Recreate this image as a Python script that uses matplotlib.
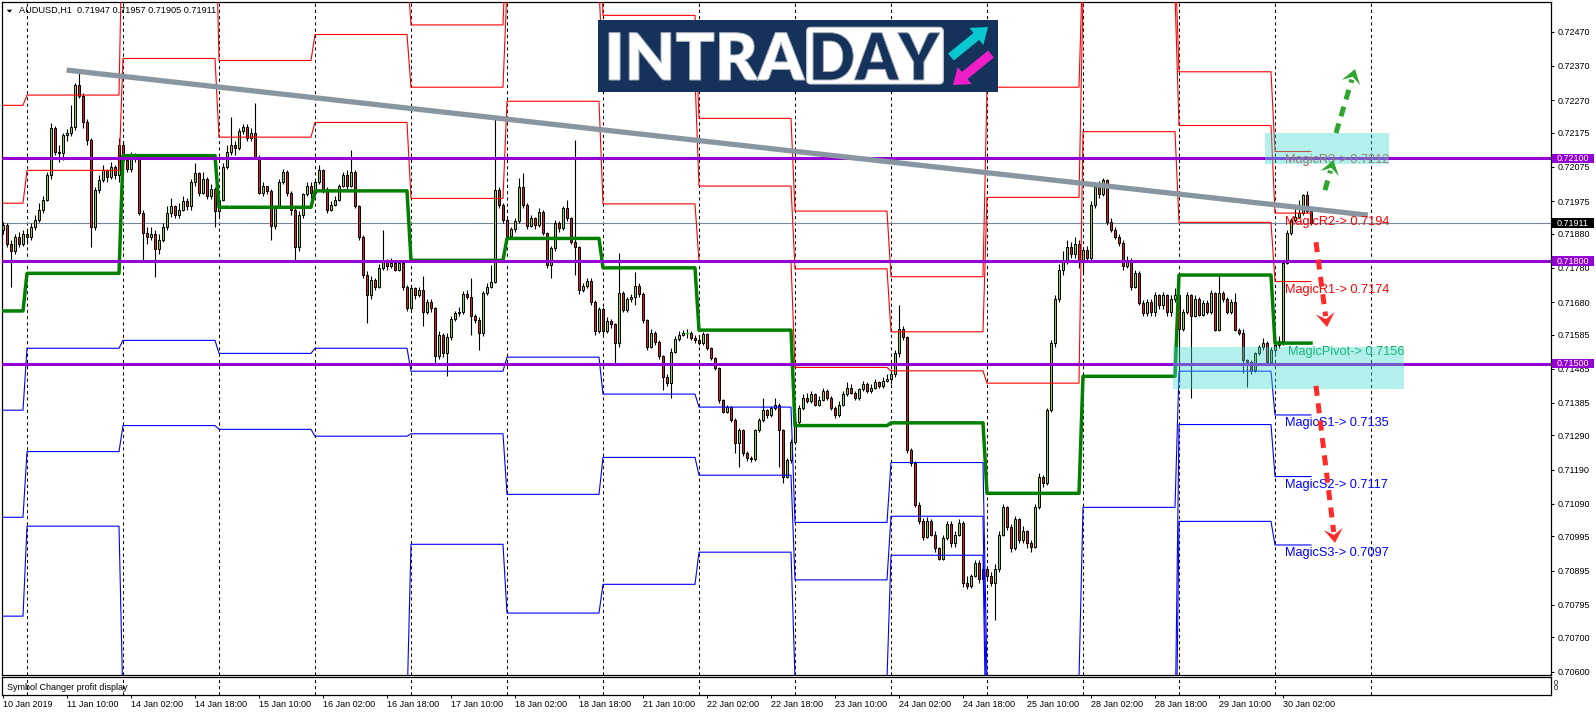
import numpy as np
import matplotlib
matplotlib.use("Agg")
import matplotlib.pyplot as plt
from matplotlib.lines import Line2D
from matplotlib.patches import Rectangle, Polygon, FancyBboxPatch, FancyArrow, PathPatch
from matplotlib.textpath import TextPath
from matplotlib.font_manager import FontProperties
from matplotlib.transforms import Affine2D, IdentityTransform, blended_transform_factory

W, H, DPI = 1596, 716, 100
FONT = "Liberation Sans"
plt.rcParams["font.family"] = [FONT, "DejaVu Sans"]

title = "AUDUSD,H1  0.71947 0.71957 0.71905 0.71911"

# H1 candles, in points above 0.70000 (1 point = 0.00001); open = previous close
first_open = 1890
closes = [
    1905, 1850, 1830, 1870, 1850, 1880,
    1870, 1900, 1920, 1950, 1979, 2052, 2188, 2120, 2115, 2168, 2175, 2193, 2315, 2281, 2207, 2154, 1900, 2008, 2037, 2065, 2045, 2075, 2050, 2140,
    2095, 2070, 2110, 2104, 1940, 1882, 1870, 1880, 1835, 1862, 1900, 1940, 1960, 1935, 1950, 1975, 1960, 2030, 2057, 2000, 2040, 1990, 2010, 1945,
    1979, 2076, 2120, 2140, 2130, 2180, 2193, 2160, 2175, 2105, 2000, 2018, 2005, 1901, 1960, 2030, 2060, 1998, 1950, 1842, 1935, 1995, 2018, 2000,
    2030, 2066, 2010, 1950, 1965, 1979, 2018, 2050, 2020, 2060, 1960, 1871, 1760, 1700, 1745, 1725, 1780, 1800, 1784, 1795, 1775, 1794, 1725, 1663,
    1720, 1700, 1716, 1652, 1680, 1662, 1521, 1584, 1531, 1579, 1630, 1648, 1652, 1704, 1696, 1638, 1628, 1589, 1706, 1725, 1740, 2008, 1964, 1920,
    1873, 1893, 1918, 2016, 1964, 1903, 1925, 1905, 1943, 1881, 1789, 1837, 1912, 1896, 1954, 1925, 1857, 1842, 1716, 1727, 1743, 1679, 1594, 1659,
    1594, 1625, 1615, 1560, 1706, 1657, 1688, 1694, 1727, 1704, 1628, 1550, 1591, 1562, 1521, 1462, 1443, 1535, 1572, 1584, 1589, 1589, 1575, 1570,
    1560, 1586, 1545, 1516, 1487, 1394, 1360, 1372, 1336, 1267, 1306, 1238, 1224, 1220, 1306, 1336, 1365, 1350, 1370, 1380, 1306, 1170, 1219, 1270,
    1330, 1370, 1400, 1390, 1410, 1380, 1395, 1420, 1400, 1370, 1350, 1380, 1410, 1430, 1415, 1400, 1425, 1440, 1420, 1430, 1445, 1435, 1450, 1455,
    1470, 1530, 1600, 1578, 1248, 1210, 1087, 1040, 994, 1040, 1000, 960, 930, 990, 1030, 975, 1000, 1035, 860, 850, 880, 918, 870, 900,
    880, 860, 900, 1000, 1082, 1023, 960, 1045, 985, 1010, 975, 965, 1082, 1170, 1150, 1365, 1560, 1690, 1774, 1800, 1840, 1820, 1850, 1800,
    1833, 1810, 1964, 2017, 1995, 2037, 1915, 1891, 1871, 1852, 1784, 1800, 1725, 1764, 1677, 1647, 1680, 1650, 1700, 1670, 1700, 1650, 1690, 1700,
    1600, 1650, 1700, 1640, 1690, 1643, 1678, 1650, 1707, 1599, 1707, 1690, 1650, 1681, 1599, 1591, 1511, 1505, 1480, 1531, 1549, 1560, 1505, 1540,
    1555, 1565, 1795, 1882, 1920, 1930, 1941, 1993, 1947, 1911,
]
highs = [
    1915, 1910, 1860, 1880, 1885, 1890,
    1890, 1910, 1935, 1970, 1990, 2060, 2203, 2195, 2140, 2175, 2185, 2256, 2320, 2354, 2290, 2215, 2160, 2015, 2050, 2080, 2070, 2090, 2080, 2160,
    2150, 2105, 2120, 2115, 2110, 1950, 1900, 1900, 1890, 1880, 1910, 1960, 1985, 1965, 1970, 1990, 1985, 2040, 2086, 2060, 2060, 2045, 2025, 2015,
    1990, 2085, 2140, 2222, 2150, 2190, 2200, 2200, 2190, 2261, 2110, 2030, 2020, 2010, 1965, 2040, 2070, 2065, 2005, 1960, 1945, 2000, 2030, 2030,
    2040, 2080, 2070, 2015, 1975, 1990, 2025, 2060, 2065, 2125, 2065, 1965, 1875, 1770, 1755, 1750, 1790, 1891, 1805, 1810, 1800, 1800, 1800, 1730,
    1730, 1725, 1725, 1755, 1690, 1690, 1665, 1595, 1590, 1590, 1640, 1655, 1665, 1712, 1715, 1750, 1645, 1635, 1712, 1735, 1789, 2222, 2015, 1970,
    1925, 1900, 1925, 2042, 2057, 1970, 1935, 1930, 1955, 1950, 1885, 1845, 1920, 1918, 1960, 1979, 1930, 2154, 1845, 1735, 1750, 1750, 1685, 1665,
    1665, 1635, 1630, 1620, 1823, 1712, 1695, 1705, 1769, 1735, 1710, 1630, 1600, 1595, 1570, 1525, 1470, 1545, 1580, 1595, 1598, 1600, 1595, 1585,
    1580, 1592, 1590, 1550, 1520, 1490, 1398, 1378, 1375, 1340, 1312, 1310, 1245, 1230, 1310, 1340, 1399, 1368, 1375, 1399, 1385, 1310, 1225, 1280,
    1340, 1380, 1410, 1415, 1420, 1415, 1405, 1430, 1425, 1405, 1375, 1390, 1420, 1445, 1440, 1420, 1430, 1450, 1445, 1440, 1455, 1450, 1460, 1470,
    1480, 1540, 1672, 1610, 1580, 1252, 1215, 1095, 1050, 1052, 1045, 1010, 965, 1000, 1040, 1040, 1010, 1045, 1040, 880, 885, 925, 925, 915,
    905, 890, 915, 1010, 1090, 1085, 1030, 1055, 1050, 1025, 1015, 985, 1090, 1180, 1175, 1370, 1570, 1700, 1790, 1830, 1860, 1855, 1870, 1860,
    1840, 1845, 1975, 2030, 2035, 2042, 2040, 1925, 1900, 1880, 1860, 1815, 1810, 1775, 1770, 1685, 1690, 1690, 1710, 1705, 1710, 1705, 1700, 1720,
    1705, 1660, 1710, 1705, 1700, 1695, 1685, 1685, 1715, 1710, 1760, 1712, 1695, 1690, 1707, 1605, 1600, 1515, 1510, 1535, 1555, 1575, 1565, 1550,
    1580, 1580, 1800, 1890, 1925, 1960, 1978, 1997, 2006, 1957,
]
lows = [
    1880, 1840, 1724, 1820, 1840, 1845,
    1850, 1860, 1890, 1915, 1940, 1975, 2040, 2110, 2090, 2095, 2150, 2165, 2183, 2275, 2190, 2140, 1841, 1890, 2000, 2030, 2030, 2040, 2040, 2030,
    2080, 2060, 2060, 2090, 1935, 1803, 1850, 1860, 1754, 1820, 1855, 1890, 1930, 1925, 1925, 1945, 1950, 1950, 2020, 1990, 1995, 1980, 1980, 1900,
    1930, 1975, 2070, 2110, 2110, 2125, 2170, 2150, 2150, 2100, 1995, 1990, 1995, 1862, 1895, 1955, 2025, 1990, 1935, 1803, 1830, 1925, 1990, 1985,
    1990, 2025, 2000, 1940, 1945, 1960, 1975, 2015, 2010, 2015, 1955, 1860, 1750, 1618, 1690, 1715, 1720, 1775, 1775, 1780, 1770, 1770, 1715, 1655,
    1655, 1690, 1695, 1609, 1645, 1650, 1501, 1515, 1520, 1464, 1570, 1625, 1640, 1645, 1690, 1584, 1620, 1540, 1580, 1700, 1720, 1735, 1955, 1910,
    1865, 1868, 1885, 1910, 1955, 1895, 1898, 1895, 1900, 1875, 1780, 1750, 1830, 1885, 1890, 1918, 1850, 1760, 1705, 1710, 1720, 1670, 1585, 1590,
    1585, 1590, 1605, 1501, 1550, 1650, 1650, 1680, 1672, 1695, 1620, 1540, 1545, 1555, 1515, 1423, 1435, 1399, 1530, 1565, 1580, 1575, 1570, 1560,
    1555, 1555, 1540, 1510, 1480, 1385, 1355, 1355, 1330, 1238, 1199, 1230, 1215, 1214, 1215, 1300, 1330, 1340, 1345, 1365, 1199, 1151, 1165, 1210,
    1265, 1325, 1365, 1385, 1385, 1375, 1375, 1390, 1395, 1365, 1340, 1345, 1375, 1405, 1410, 1395, 1395, 1420, 1415, 1415, 1425, 1430, 1430, 1445,
    1440, 1460, 1520, 1570, 1240, 1200, 1080, 1030, 985, 990, 995, 950, 925, 925, 985, 965, 965, 995, 848, 840, 845, 875, 860, 860,
    870, 850, 751, 890, 995, 1015, 950, 955, 975, 975, 960, 950, 960, 1075, 1140, 1145, 1360, 1550, 1680, 1760, 1790, 1810, 1810, 1780,
    1764, 1800, 1800, 1955, 1985, 1990, 1905, 1885, 1865, 1845, 1775, 1780, 1715, 1720, 1670, 1640, 1640, 1640, 1640, 1660, 1660, 1640, 1640, 1680,
    1447, 1595, 1645, 1400, 1635, 1640, 1640, 1645, 1645, 1595, 1595, 1680, 1645, 1645, 1595, 1585, 1473, 1432, 1470, 1475, 1525, 1540, 1495, 1500,
    1530, 1545, 1555, 1790, 1875, 1915, 1925, 1935, 1940, 1905,
]

# daily "Magic" levels, 10 Jan (partial) ... 30 Jan (partial)
day_bars = [6] + [24] * 13 + [10]
lvl_r3 = [0.7257, 0.7259, 0.7320, 0.7260, 0.7266, 0.72490, 0.7280, 0.72518, 0.72217, 0.71946, 0.71754, 0.72308, 0.7270, 0.72353, 0.7212]
lvl_r2 = [0.72255, 0.72285, 0.7290, 0.72386, 0.72462, 0.72308, 0.7260, 0.72337, 0.72019, 0.71777, 0.71593, 0.71986, 0.7258, 0.72196, 0.7194]
lvl_r1 = [0.71969, 0.72065, 0.72392, 0.72162, 0.72205, 0.71983, 0.72267, 0.71967, 0.71798, 0.71489, 0.71479, 0.71443, 0.72178, 0.71913, 0.7174]
lvl_p = [0.71654, 0.71764, 0.72108, 0.71957, 0.72005, 0.71802, 0.71866, 0.71780, 0.71598, 0.71319, 0.71327, 0.71121, 0.71463, 0.71759, 0.7156]
lvl_s1 = [0.71364, 0.71545, 0.71568, 0.71530, 0.71545, 0.71478, 0.71519, 0.71411, 0.71373, 0.71036, 0.71211, 0.7058, 0.71080, 0.71478, 0.7135]
lvl_s2 = [0.71051, 0.71243, 0.71319, 0.71308, 0.71288, 0.71295, 0.71118, 0.71226, 0.71174, 0.70868, 0.71054, 0.7040, 0.7040, 0.71322, 0.7117]
lvl_s3 = [0.70762, 0.71025, 0.7050, 0.7050, 0.7050, 0.70972, 0.70771, 0.70855, 0.70949, 0.7058, 0.70940, 0.7020, 0.7010, 0.71039, 0.7097]
magic_names = ["MagicR3", "MagicR2", "MagicR1", "MagicPivot", "MagicS1", "MagicS2", "MagicS3"]
magic_x = [320.5, 320.5, 320.5, 321.3, 320.5, 320.5, 320.5]

price_ticks = [0.72470, 0.72370, 0.72270, 0.72175, 0.72075, 0.71975, 0.71880, 0.71780, 0.71680, 0.71585,
               0.71485, 0.71385, 0.71290, 0.71190, 0.71090, 0.70995, 0.70895, 0.70795, 0.70700, 0.70600]
date_labels = ["10 Jan 2019", "11 Jan 10:00", "14 Jan 02:00", "14 Jan 18:00", "15 Jan 10:00", "16 Jan 02:00",
               "16 Jan 18:00", "17 Jan 10:00", "18 Jan 02:00", "18 Jan 18:00", "21 Jan 10:00", "22 Jan 02:00",
               "22 Jan 18:00", "23 Jan 10:00", "24 Jan 02:00", "24 Jan 18:00", "25 Jan 10:00", "28 Jan 02:00",
               "28 Jan 18:00", "29 Jan 10:00", "30 Jan 02:00"]
key_levels = [0.72100, 0.71800, 0.71500]
last_price = 0.71911

trend_x = [15.9, 341.2]
trend_y = [0.72358, 0.71934]
zones = [(315.5, 346.4, 0.72083, 0.72173), (292.5, 350.25, 0.71426, 0.71550)]
arrows_up = [((330.5, 0.72007), (332.6, 0.72095)), ((333.25, 0.72174), (338.0, 0.72361))]
arrows_dn = [((328.25, 0.71855), (331.0, 0.71607)), ((328.25, 0.71435), (333.0, 0.70976))]

YMIN, YMAX = 0.70590, 0.72557
XMIN, XMAX = -0.25, 387.0

fig = plt.figure(figsize=(W / DPI, H / DPI), dpi=DPI)
fig.patch.set_facecolor("white")


def fx(px):
    return px / W


def fy(py):
    return 1 - py / H


ax = fig.add_axes([fx(2), fy(675), fx(1551) - fx(2), fy(2) - fy(675)])
sub = fig.add_axes([fx(2), fy(695), fx(1551) - fx(2), fy(677) - fy(695)], sharex=ax)
ax.set_xlim(XMIN, XMAX)
ax.set_ylim(YMIN, YMAX)
sub.set_ylim(0, 1)
for a in (ax, sub):
    for s in a.spines.values():
        s.set_linewidth(0.9)
        s.set_color("black")

# day separators
for b in range(6, 360, 24):
    for a in (ax, sub):
        a.axvline(b, color="black", lw=0.75, ls=(0, (3, 3)), zorder=1)

# candles
o = 0.7 + np.array([first_open] + closes[:-1]) / 1e5
c = 0.7 + np.array(closes) / 1e5
hi = 0.7 + np.array(highs) / 1e5
lo = 0.7 + np.array(lows) / 1e5
x = np.arange(len(c))
ax.vlines(x, lo, hi, color="black", lw=0.8, zorder=3)
up = c > o
dn = c < o
ax.bar(x[up], (c - o)[up], bottom=o[up], width=0.62, color="#9acd32", edgecolor="black", lw=0.7, zorder=3.5)
ax.bar(x[dn], (o - c)[dn], bottom=c[dn], width=0.62, color="#dc1e1e", edgecolor="black", lw=0.7, zorder=3.5)
dj = ~(up | dn)
ax.hlines(c[dj], x[dj] - 0.4, x[dj] + 0.4, color="#00e000", lw=1, zorder=3.5)

# magic levels
levels = [lvl_r3, lvl_r2, lvl_r1, lvl_p, lvl_s1, lvl_s2, lvl_s3]
colors = ["red", "red", "red", "#007f00", "blue", "blue", "blue"]
for vals, col in zip(levels, colors):
    lw = 2.5 if col == "#007f00" else 0.8
    ax.plot(x, np.repeat(vals, day_bars)[:len(x)], color=col, lw=lw, zorder=4)

ax.axhline(last_price, color="#778899", lw=0.8, zorder=2)
for p in key_levels:
    ax.axhline(p, color="#9400d3", lw=2.2, zorder=5)
ax.plot(trend_x, trend_y, color="#8796a0", lw=3.8, solid_capstyle="butt", zorder=6)

label_cols = ["#d04040", "red", "red", "#00a040", "blue", "blue", "blue"]
for name, vals, lx, col in zip(magic_names, levels, magic_x, label_cols):
    v = vals[-1]
    ax.annotate(f"{name}-> {v:.4f}", xy=(lx, v), xytext=(0, -2.5), textcoords="offset pixels",
                ha="left", va="top", fontsize=9.2, color=col, zorder=6)

for x0, x1, y0, y1 in zones:
    ax.add_patch(Rectangle((x0, y0), x1 - x0, y1 - y0, facecolor="#44dacf", alpha=0.4, lw=0, zorder=7))

# price axis
ax.yaxis.tick_right()
ax.set_yticks(price_ticks)
ax.set_yticklabels([f"{v:.5f}" for v in price_ticks])
ax.tick_params(axis="y", direction="out", length=2.2, width=0.75, pad=2.5, labelsize=6.5)
ax.tick_params(axis="x", bottom=False, labelbottom=False)

tag = blended_transform_factory(ax.transAxes, ax.transData)
ph = (YMAX - YMIN) / 673 * 9.6
for p, fc in [(v, "#9400d3") for v in key_levels] + [(last_price, "black")]:
    ax.add_patch(Rectangle((1.0005, p - ph / 2), 0.027, ph, transform=tag, clip_on=False,
                           facecolor=fc, lw=0, zorder=8))
    ax.text(1.0005 + 0.0135, p, f"{p:.5f}", transform=tag, ha="center", va="center",
            color="white", fontsize=6.5, zorder=9, clip_on=False)

# sub window
sub.set_yticks([])
sub.set_xticks(np.arange(len(date_labels)) * 16)
sub.set_xticklabels(date_labels)
sub.tick_params(axis="x", direction="out", length=2.2, width=0.75, pad=1.2, labelsize=6.5)
for t in sub.get_xticklabels():
    t.set_ha("left")
fig.text(fx(7), fy(687), "Symbol Changer profit display", fontsize=6.5, va="center", ha="left")
fig.text(fx(1554), fy(683.5), "0", fontsize=5.5, va="center", ha="left")
fig.text(fx(1554), fy(688.5), "0", fontsize=5.5, va="center", ha="left")

# title
fig.text(fx(19), fy(10.5), title, fontsize=6.6, va="center", ha="left")
ident = IdentityTransform()
fig.add_artist(Polygon([(6.7, H - 9.7), (12.3, H - 9.7), (9.5, H - 12.7)], closed=True,
                       facecolor="black", edgecolor="none", transform=ident))


def dashed_arrow(p0, p1, color):
    a, b = ax.transData.transform([p0, p1])
    u = (b - a) / np.hypot(*(b - a))
    n = np.array([-u[1], u[0]])
    hl, hw, notch = 14.0, 9.5, 6.0
    stem = b - u * (hl - 3)
    fig.add_artist(Line2D([a[0], stem[0]], [a[1], stem[1]], color=color, lw=3.6,
                          ls=(0, (2.0, 1.5)), transform=ident))
    head = [b, b - u * hl + n * hw, b - u * (hl - notch), b - u * hl - n * hw]
    fig.add_artist(Polygon(head, closed=True, facecolor=color, edgecolor="none", transform=ident))


for p0, p1 in arrows_up:
    dashed_arrow(p0, p1, "#2ea52e")
for p0, p1 in arrows_dn:
    dashed_arrow(p0, p1, "#ff2a2a")


# logo
def fit_text(s, box, fc, ec, prop):
    tp = TextPath((0, 0), s, size=100, prop=prop)
    e = tp.get_extents()
    x0, y0, x1, y1 = box
    tr = Affine2D().translate(-e.x0, -e.y0).scale((x1 - x0) / e.width, (y1 - y0) / e.height).translate(x0, H - y1)
    fig.add_artist(PathPatch(tr.transform_path(tp), facecolor=fc, edgecolor=ec, lw=0.7, transform=ident))


navy = "#15325a"
fig.add_artist(Rectangle((597.7, H - 91.7), 400.3, 71.7, facecolor=navy, lw=0, transform=ident))
fig.add_artist(FancyBboxPatch((806.7, H - 84), 136.6, 56.7, boxstyle="round,pad=0,rounding_size=4",
                              facecolor="white", edgecolor="#c8ccd4", lw=0.8, transform=ident))
logo_font = FontProperties(family="Lato", weight="heavy")
fit_text("INTRA", (609, 32.7, 805, 80), "white", "#aab0bc", logo_font)
fit_text("DAY", (813, 32.7, 940, 80), navy, "#aab0bc", logo_font)
fig.add_artist(FancyArrow(951, H - 57, 37, 30, width=9, head_width=22, head_length=15,
                          length_includes_head=True, color="#0ac8d0", lw=0, transform=ident))
fig.add_artist(FancyArrow(991, H - 54, -38, -31, width=9, head_width=22, head_length=15,
                          length_includes_head=True, color="#f01ec8", lw=0, transform=ident))

fig.savefig("out.png", dpi=DPI, facecolor="white")
